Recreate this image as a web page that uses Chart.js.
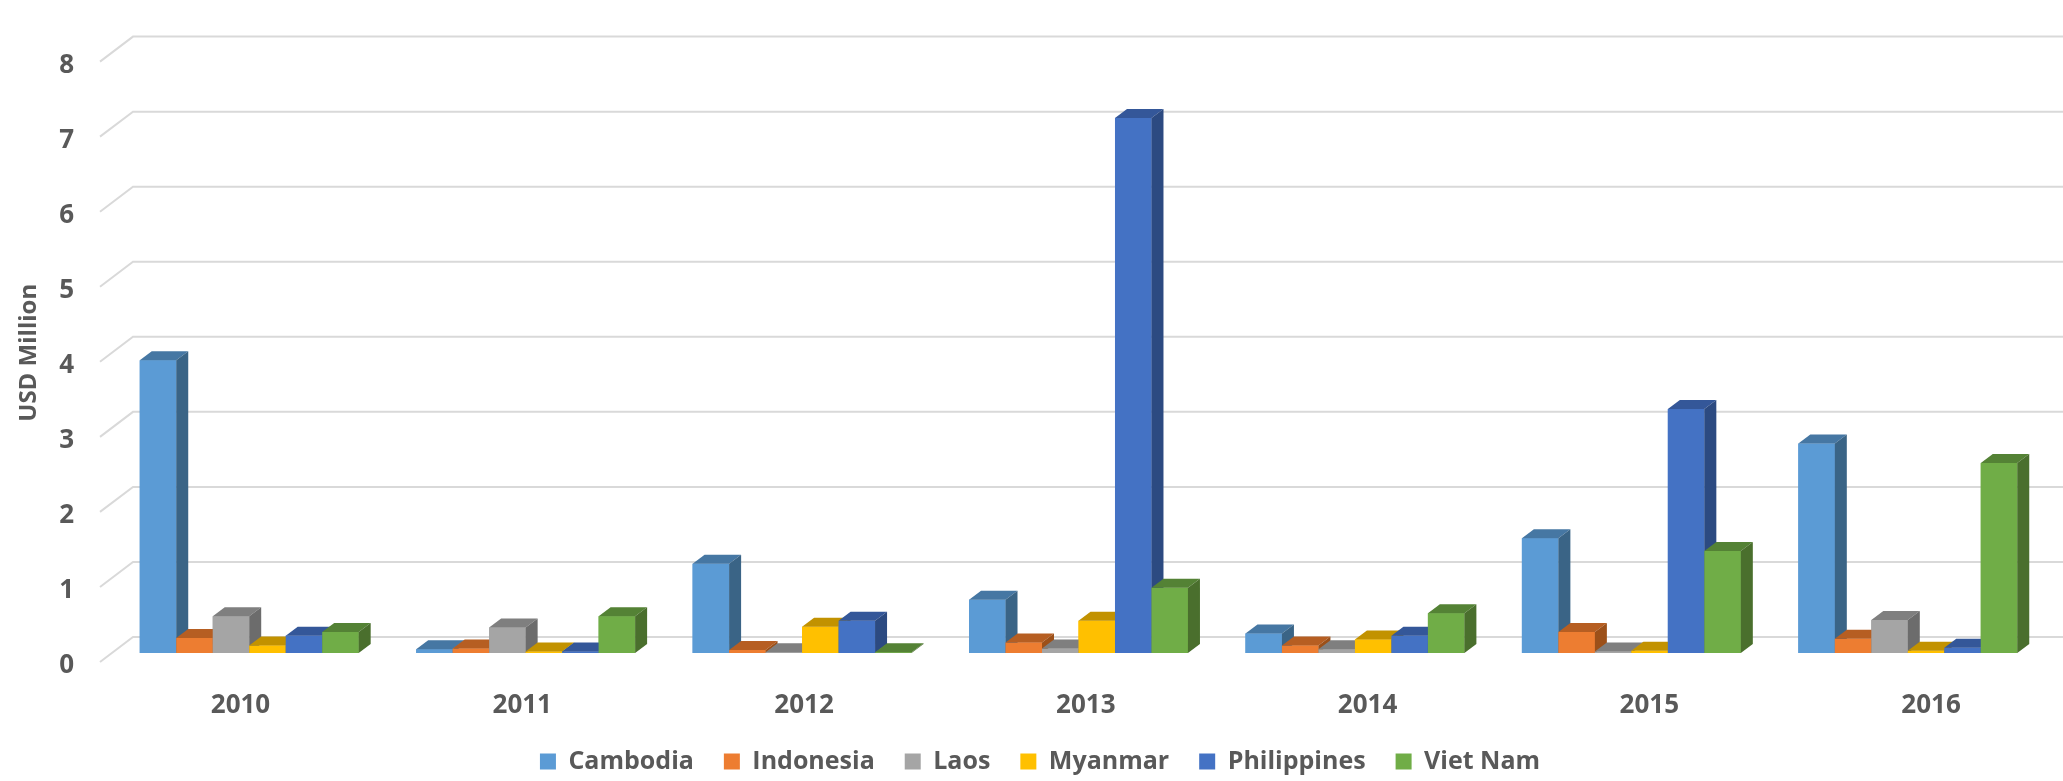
<!DOCTYPE html>
<html lang="en">
<head>
<meta charset="UTF-8">
<title>USD Million by country, 2010-2016</title>
<script src="https://cdn.jsdelivr.net/npm/chart.js"></script>
<style>
  body { margin: 0; background: #fff; }
  #wrap { width: 2063px; height: 781px; }
</style>
</head>
<body>
<div id="wrap"><canvas id="chart" width="2063" height="781"></canvas></div>
<script>
// values, USD million
const years = ['2010', '2011', '2012', '2013', '2014', '2015', '2016'];
const cambodia    = [3.90, 0.05, 1.19, 0.71, 0.26, 1.53, 2.79];
const indonesia   = [0.20, 0.06, 0.04, 0.14, 0.10, 0.28, 0.19];
const laos        = [0.49, 0.34, 0.01, 0.06, 0.05, 0.02, 0.44];
const myanmar     = [0.10, 0.02, 0.35, 0.43, 0.18, 0.03, 0.03];
const philippines = [0.23, 0.02, 0.43, 7.13, 0.23, 3.25, 0.07];
const vietNam     = [0.28, 0.49, 0.01, 0.87, 0.53, 1.36, 2.53];

const names  = ['Cambodia', 'Indonesia', 'Laos', 'Myanmar', 'Philippines', 'Viet Nam'];
const series = [cambodia, indonesia, laos, myanmar, philippines, vietNam];
const front  = ['#5B9BD5', '#ED7D31', '#A5A5A5', '#FFC000', '#4472C4', '#70AD47'];
const tops   = ['#4677A3', '#B65E22', '#7F7F7F', '#C29200', '#345799', '#548235'];
const sides  = ['#3A6486', '#9C5019', '#6C6C6C', '#A67D00', '#2C4A81', '#4A6F2D'];

const DX = 12, DY = 9;   // depth of the boxes

// fake 3d: back wall grid, then every bar redrawn left to right with top and side faces
const bars3d = {
    id: 'bars3d',
    beforeDatasetsDraw(chart) {
        const { ctx, chartArea } = chart;
        const y = chart.scales.y;
        ctx.save();
        ctx.strokeStyle = '#d9d9d9';
        ctx.lineWidth = 2;
        y.ticks.forEach(t => {
            const py = y.getPixelForValue(t.value);
            ctx.beginPath();
            ctx.moveTo(chartArea.left - 11, py + 9);
            ctx.lineTo(chartArea.left + 22, py - 16);
            ctx.lineTo(chart.width, py - 16);
            ctx.stroke();
        });
        ctx.restore();
    },
    afterDatasetsDraw(chart) {
        const ctx = chart.ctx;
        ctx.save();
        years.forEach((yr, j) => {
            series.forEach((d, i) => {
                const bar = chart.getDatasetMeta(i).data[j];
                const { x, y, base, width } = bar.getProps(['x', 'y', 'base', 'width'], true);
                const l = x - width / 2, r = x + width / 2;
                ctx.fillStyle = front[i];
                ctx.fillRect(l, y, width, base - y);
                ctx.fillStyle = tops[i];
                ctx.beginPath();
                ctx.moveTo(l, y);
                ctx.lineTo(l + DX, y - DY);
                ctx.lineTo(r + DX, y - DY);
                ctx.lineTo(r, y);
                ctx.closePath();
                ctx.fill();
                ctx.fillStyle = sides[i];
                ctx.beginPath();
                ctx.moveTo(r, y);
                ctx.lineTo(r + DX, y - DY);
                ctx.lineTo(r + DX, base - DY);
                ctx.lineTo(r, base);
                ctx.closePath();
                ctx.fill();
            });
        });
        ctx.restore();
    }
};

Chart.defaults.font.family = "'Open Sans', sans-serif";
Chart.defaults.color = '#595959';

new Chart(document.getElementById('chart'), {
    type: 'bar',
    data: {
        labels: years,
        datasets: series.map((d, i) => ({
            label: names[i],
            data: d,
            backgroundColor: front[i]
        }))
    },
    options: {
        responsive: false,
        animation: false,
        devicePixelRatio: 1,
        layout: { padding: { top: 25, right: 17, left: 34, bottom: 0 } },
        categoryPercentage: 0.792,
        barPercentage: 1,
        scales: {
            x: { display: false },
            // year labels sit on the front edge, a bit wider apart than the bars
            xl: {
                type: 'linear',
                position: 'bottom',
                bounds: 'data',
                offset: false,
                min: -0.4596,
                max: 6.408,
                grid: { display: false, offset: false },
                border: { display: false },
                afterFit: s => { s.height = 66; },
                afterBuildTicks: s => { s.ticks = years.map((yr, i) => ({ value: i })); },
                ticks: {
                    autoSkip: false,
                    maxRotation: 0,
                    padding: 29,
                    font: { size: 26, weight: 'bold' },
                    callback: v => years[v] ?? ''
                }
            },
            y: {
                min: 0,
                max: 8,
                grid: { display: false, drawTicks: false },
                border: { display: false },
                afterFit: s => { s.width = 77; },
                ticks: {
                    stepSize: 1,
                    padding: 37,
                    labelOffset: 13,
                    font: { size: 26, weight: 'bold' }
                },
                title: {
                    display: true,
                    text: 'USD Million',
                    font: { size: 24, weight: 'bold' },
                    padding: { top: -19, bottom: 0 }
                }
            }
        },
        plugins: {
            tooltip: { enabled: false },
            legend: {
                position: 'bottom',
                maxHeight: 62,
                labels: {
                    boxWidth: 16,
                    boxHeight: 16,
                    padding: 30,
                    font: { size: 25, weight: 'bold' }
                }
            }
        }
    },
    plugins: [bars3d]
});
</script>
</body>
</html>
